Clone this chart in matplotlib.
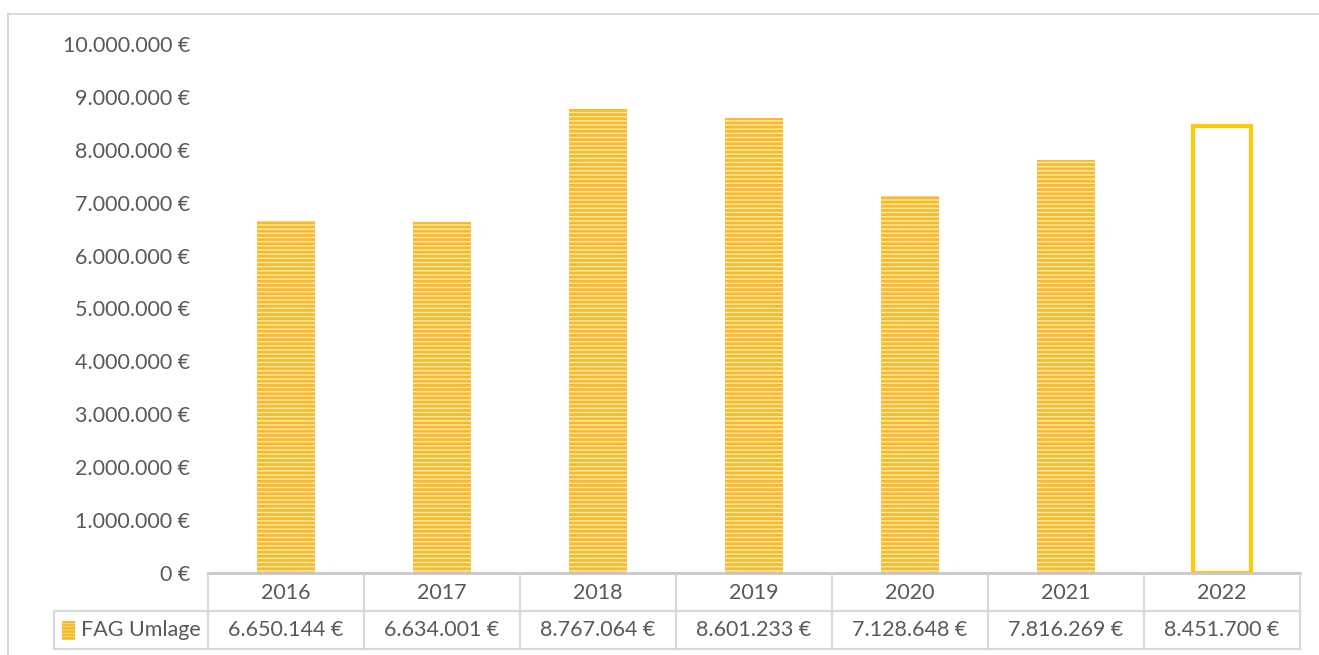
import matplotlib
matplotlib.use("Agg")
import matplotlib.pyplot as plt
from matplotlib.lines import Line2D
from matplotlib.patches import Rectangle

years = ["2016", "2017", "2018", "2019", "2020", "2021", "2022"]
values = [6650144, 6634001, 8767064, 8601233, 7128648, 7816269, 8451700]
value_labels = ["6.650.144 €", "6.634.001 €", "8.767.064 €", "8.601.233 €",
                "7.128.648 €", "7.816.269 €", "8.451.700 €"]
series_name = "FAG Umlage"
yticks = list(range(0, 10000001, 1000000))

plt.rcParams['font.family'] = ['Lato', 'DejaVu Sans']
plt.rcParams['hatch.linewidth'] = 2.0
TXT = '#595959'
GRID = '#D9D9D9'
FS = 15.5

W, H = 1319, 655
fig = plt.figure(figsize=(W / 100, H / 100), dpi=100)

def fx(px):
    return px / W

def fy(py):
    return 1 - py / H

ax = fig.add_axes([fx(208), fy(573), fx(1300) - fx(208), fy(44) - fy(573)])
ax.set_xlim(-0.5, len(years) - 0.5)
ax.set_ylim(0, 10000000)

bw = 58 / 156
for i, (y, v) in enumerate(zip(years, values)):
    if i < len(years) - 1:
        ax.bar(i, v, width=bw, color='#FDE9B0', edgecolor='#F7BA2A', linewidth=0,
               hatch='----')
    else:
        ax.bar(i, v, width=bw, facecolor='none', edgecolor='#FFC80A', linewidth=3)

ax.set_yticks(yticks)
ax.set_yticklabels([f"{t:,}".replace(",", ".") + " €" for t in yticks], fontsize=FS, color=TXT)
ax.tick_params(axis='y', length=0, pad=13)
ax.set_xticks([])
for s in ['top', 'right', 'left']:
    ax.spines[s].set_visible(False)
ax.spines['bottom'].set_color('#C8C8C8')
ax.spines['bottom'].set_linewidth(2)

def hline(x0, x1, py, c=GRID, lw=1.6):
    fig.add_artist(Line2D([fx(x0), fx(x1)], [fy(py), fy(py)], color=c, lw=lw))

def vline(px, y0, y1, c=GRID, lw=1.6):
    fig.add_artist(Line2D([fx(px), fx(px)], [fy(y0), fy(y1)], color=c, lw=lw))

# outer border
hline(8, 1319, 14, c='#D9D9D9', lw=1.5)
vline(8, 14, 655, c='#D9D9D9', lw=1.5)

# table
cols = [208 + 156 * k for k in range(len(years) + 1)]
hline(54, 1300, 611)
hline(54, 1300, 649)
vline(54, 611, 649)
for c in cols:
    vline(c, 575, 649)
for k, (yr, lab) in enumerate(zip(years, value_labels)):
    cx = (cols[k] + cols[k + 1]) / 2
    fig.text(fx(cx), fy(593), yr, ha='center', va='center', fontsize=FS, color=TXT)
    fig.text(fx(cx), fy(630), lab, ha='center', va='center', fontsize=FS, color=TXT)

fig.add_artist(Rectangle((fx(62), fy(640)), fx(13), fy(621) - fy(640), transform=fig.transFigure,
                         facecolor='#FDE9B0', edgecolor='#F7BA2A', linewidth=0, hatch='-----'))
fig.text(fx(81), fy(630), series_name, ha='left', va='center', fontsize=FS, color=TXT)

fig.savefig("out.png", dpi=100)
